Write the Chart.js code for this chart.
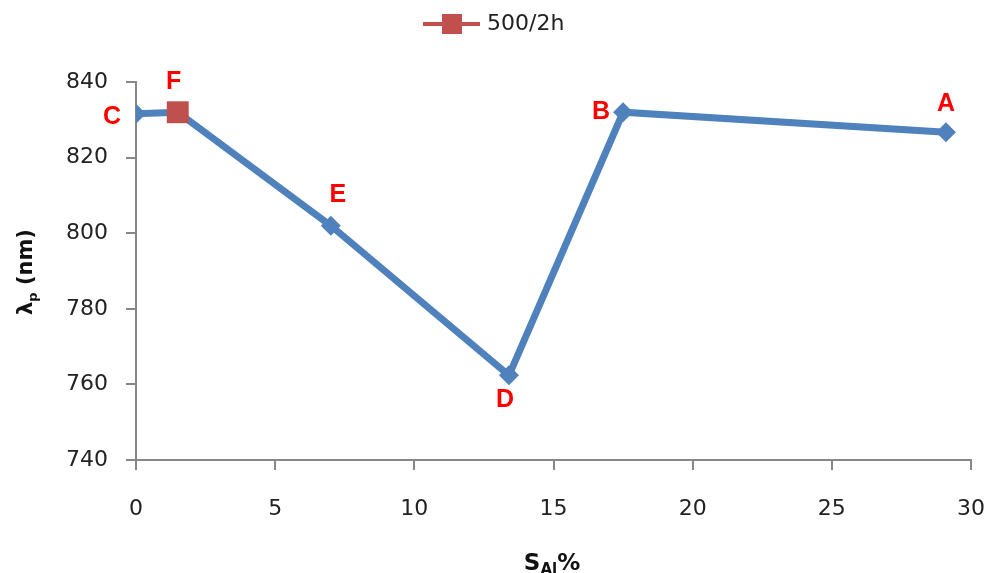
<!DOCTYPE html>
<html>
<head>
<meta charset="utf-8">
<script src="https://cdn.jsdelivr.net/npm/chart.js@4/dist/chart.umd.min.js"></script>
<style>
  html, body { margin: 0; padding: 0; background: #fff; }
  #wrap { width: 989px; height: 573px; position: relative; }
</style>
</head>
<body>
<div id="wrap"><canvas id="chart"></canvas></div>
<script>
// data
const sAl = [0, 1.5, 7, 13.4, 17.5, 29.1];
const lambdaP = [831.6, 832, 802, 762.4, 832, 826.7];
const pointNames = ["C", "F", "E", "D", "B", "A"];
const redX = [1.5];
const redY = [832];
const redName = "500/2h";
const xTicks = [0, 5, 10, 15, 20, 25, 30];
const yTicks = [740, 760, 780, 800, 820, 840];

// label offsets from the point (px)
const labelOffsets = [[-24, 3], [-4, -30], [7, -31], [-4, 25], [-22, 0], [0, -28]];

const BLUE = "#4F81BD", RED = "#C0504D", AXIS = "#878787";
const TICK_FONT = { family: "DejaVu Sans", size: 22 };

const annotate = {
  id: "annotate",
  afterDraw(chart) {
    const c = chart.ctx;
    const meta = chart.getDatasetMeta(0);
    c.save();
    // point letters
    c.fillStyle = "#FF0000";
    c.font = "bold 25px 'Liberation Sans'";
    c.textAlign = "center";
    c.textBaseline = "middle";
    meta.data.forEach((p, i) => {
      const o = labelOffsets[i];
      c.fillText(pointNames[i], p.x + o[0], p.y + o[1]);
    });

    // legend
    c.strokeStyle = RED;
    c.lineWidth = 4;
    c.beginPath(); c.moveTo(423, 24); c.lineTo(480, 24); c.stroke();
    c.fillStyle = RED;
    c.fillRect(442, 14, 20, 20);
    c.fillStyle = "#222";
    c.font = "22px 'DejaVu Sans'";
    c.textAlign = "left";
    c.fillText(redName, 487, 24);

    // x title: S with subscript Al
    c.fillStyle = "#111";
    c.textBaseline = "alphabetic";
    c.font = "bold 23px 'DejaVu Sans'";
    const sW = c.measureText("S").width;
    c.font = "bold 15px 'DejaVu Sans'";
    const aW = c.measureText("Al").width;
    c.font = "bold 23px 'DejaVu Sans'";
    const pW = c.measureText("%").width;
    let x0 = 552 - (sW + aW + pW) / 2;
    c.fillText("S", x0, 570);
    c.font = "bold 15px 'DejaVu Sans'";
    c.fillText("Al", x0 + sW, 574);
    c.font = "bold 23px 'DejaVu Sans'";
    c.fillText("%", x0 + sW + aW, 570);

    // y title: lambda with subscript p, rotated
    c.translate(32, 272);
    c.rotate(-Math.PI / 2);
    c.font = "bold 21px 'DejaVu Sans'";
    const lW = c.measureText("λ").width;
    c.font = "bold 13px 'DejaVu Sans'";
    const subW = c.measureText("p").width;
    c.font = "bold 21px 'DejaVu Sans'";
    const rest = " (nm)";
    const rW = c.measureText(rest).width;
    x0 = -(lW + subW + rW) / 2;
    c.fillText("λ", x0, 0);
    c.font = "bold 13px 'DejaVu Sans'";
    c.fillText("p", x0 + lW, 5);
    c.font = "bold 21px 'DejaVu Sans'";
    c.fillText(rest, x0 + lW + subW, 0);
    c.restore();
  }
};

new Chart(document.getElementById("chart"), {
  type: "line",
  data: {
    datasets: [
      {
        label: "series",
        data: sAl.map((x, i) => ({ x, y: lambdaP[i] })),
        borderColor: BLUE,
        backgroundColor: BLUE,
        borderWidth: 7,
        pointStyle: "rectRot",
        pointRadius: 10,
        pointBorderWidth: 0,
        tension: 0,
        order: 2
      },
      {
        label: redName,
        data: redX.map((x, i) => ({ x, y: redY[i] })),
        borderColor: RED,
        backgroundColor: RED,
        showLine: false,
        pointStyle: "rect",
        pointRadius: 15.5,
        pointBorderWidth: 0,
        order: 1
      }
    ]
  },
  options: {
    responsive: true,
    maintainAspectRatio: false,
    animation: false,
    layout: { padding: { top: 82, right: 0, left: 0, bottom: 0 } },
    plugins: { legend: { display: false }, tooltip: { enabled: false } },
    scales: {
      x: {
        type: "linear",
        min: 0, max: 30,
        afterBuildTicks: s => { s.ticks = xTicks.map(v => ({ value: v })); },
        afterFit: s => { s.height = 113; s.paddingRight = 18; s.paddingLeft = 0; },
        grid: { drawOnChartArea: false, drawTicks: true, tickLength: 10, color: AXIS, lineWidth: 2 },
        border: { color: AXIS, width: 2 },
        ticks: { font: TICK_FONT, color: "#222", padding: 26, maxRotation: 0 }
      },
      y: {
        min: 740, max: 840,
        afterBuildTicks: s => { s.ticks = yTicks.map(v => ({ value: v })); },
        afterFit: s => { s.width = 136; s.paddingTop = 0; s.paddingBottom = 0; },
        grid: { drawOnChartArea: false, drawTicks: true, tickLength: 10, color: AXIS, lineWidth: 2 },
        border: { color: AXIS, width: 2 },
        ticks: { font: TICK_FONT, color: "#222", padding: 18 }
      }
    }
  },
  plugins: [annotate]
});
</script>
</body>
</html>
